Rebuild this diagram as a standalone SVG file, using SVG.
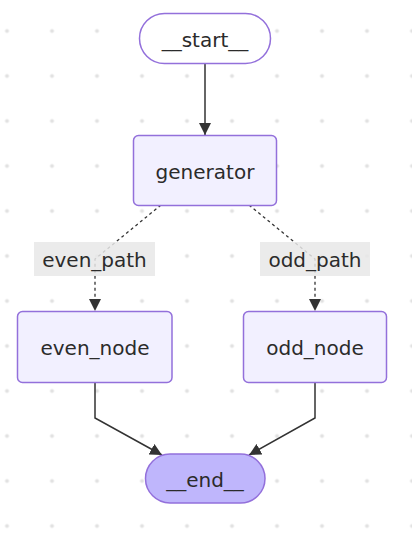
<svg xmlns="http://www.w3.org/2000/svg" width="412" height="533" viewBox="0 0 412 533">
<style>
.node rect{fill:#f2f0ff;stroke:#9370db;stroke-width:1.5}
.first rect{fill:#ffffff}
.last rect{fill:#bfb6fc}
text{font-family:"DejaVu Sans","Liberation Sans",sans-serif;font-size:20px;fill:#2b2b2b;text-anchor:middle}
.edge{fill:none;stroke:#333333;stroke-width:1.5}
.dotted{stroke-dasharray:3 3;stroke-width:1.3}
.lbl rect{fill:#e8e8e8;fill-opacity:0.85}
</style>
<defs>
<pattern id="dots" patternUnits="userSpaceOnUse" x="-15.5" y="8.5" width="45" height="45">
<circle cx="22.5" cy="22.5" r="2" fill="#e2e2e2"/>
</pattern>
<marker id="arr" viewBox="0 0 12 12" refX="12" refY="6" markerWidth="12" markerHeight="12" markerUnits="userSpaceOnUse" orient="auto">
<path d="M0,0 L12,6 L0,12 z" fill="#333333"/>
</marker>
</defs>
<rect width="412" height="533" fill="#ffffff"/>
<rect width="412" height="533" fill="url(#dots)"/>
<g id="connectors">
<path class="edge" d="M205,63 L205,135" marker-end="url(#arr)"/>
<path class="edge dotted" d="M161,205 L95,259 L95,311" marker-end="url(#arr)"/>
<path class="edge dotted" d="M249,205 L315,259 L315,311" marker-end="url(#arr)"/>
<path class="edge" d="M95,382 L95,418 L162,455" marker-end="url(#arr)"/>
<path class="edge" d="M315,382 L315,418 L249,455" marker-end="url(#arr)"/>
</g>
<g id="label-even_path" class="lbl">
<rect x="34" y="242" width="121" height="34"/>
<text x="94.5" y="266.5">even_path</text>
</g>
<g id="label-odd_path" class="lbl">
<rect x="260" y="242" width="110" height="34"/>
<text x="315" y="266.5">odd_path</text>
</g>
<g id="node-start" class="node first">
<rect x="139.5" y="13.5" width="131" height="50" rx="25" ry="25"/>
<text x="205" y="46.5">__start__</text>
</g>
<g id="node-generator" class="node">
<rect x="133.5" y="135.5" width="143" height="70" rx="5" ry="5"/>
<text x="205" y="179">generator</text>
</g>
<g id="node-even_node" class="node">
<rect x="17.5" y="311.5" width="154.5" height="71" rx="5" ry="5"/>
<text x="95" y="354.5">even_node</text>
</g>
<g id="node-odd_node" class="node">
<rect x="243.5" y="311.5" width="143" height="71" rx="5" ry="5"/>
<text x="315" y="354.5">odd_node</text>
</g>
<g id="node-end" class="node last">
<rect x="145.5" y="454" width="119.5" height="49" rx="24.5" ry="24.5"/>
<text x="205" y="486.5">__end__</text>
</g>
</svg>
